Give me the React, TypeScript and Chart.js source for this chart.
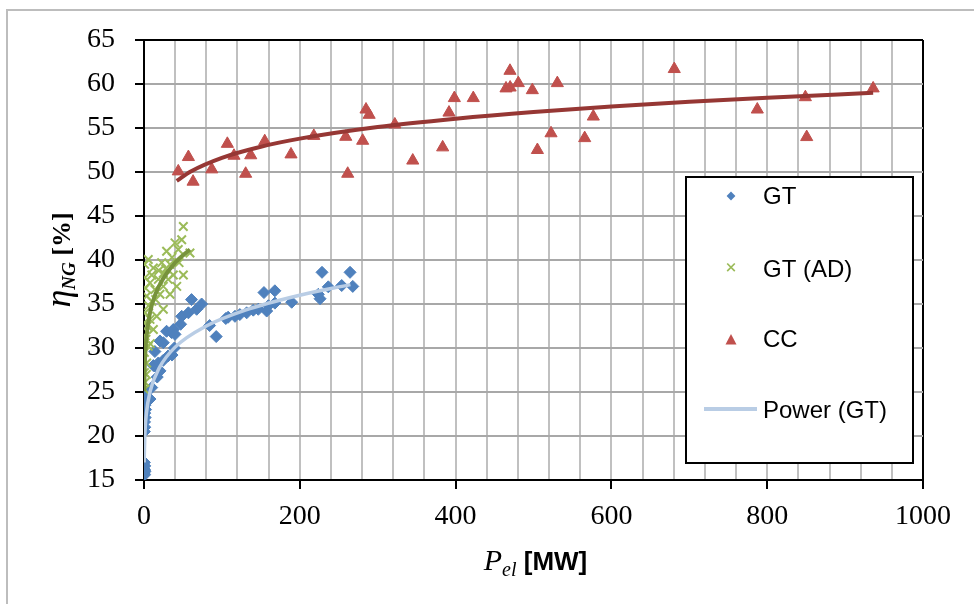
import { useEffect, useRef } from "react";
import { Chart, registerables } from "chart.js";

Chart.register(...registerables);

// ---------- axes ----------
const X_GRID = [0, 40, 80, 120, 160, 200, 240, 280, 320, 360, 400, 440, 480, 520, 560, 600, 640, 680, 720, 760, 800, 840, 880, 920, 960, 1000];
const X_LABELS = [0, 200, 400, 600, 800, 1000];
const Y_TICKS = [15, 20, 25, 30, 35, 40, 45, 50, 55, 60, 65];

// ---------- GT (blue diamonds) ----------
const GT_X = [0.3, 0.6, 1.0, 0.5, 1.3, 0.8,
  0.5, 1.0, 0.7, 1.5, 1.0, 2.0, 1.2, 2.5, 0.8, 1.5,
  3.4, 7.7, 9.9, 17, 12, 18.4, 20.5, 24.8, 14, 24.8, 20.5, 31, 36, 39,
  29, 35.5, 37.6, 39.8, 47, 48.4, 57, 61, 67.6, 74,
  84.2, 92.7, 105, 108, 116.8, 123, 131.8, 140.3, 146.7, 154, 157.5, 159.6, 168, 168,
  189.6, 223.8, 226, 236.6, 228.5, 253.8, 264.5, 268];
const GT_Y = [15.8, 16.2, 16.6, 17.0, 16.0, 15.6,
  20.5, 21.0, 21.6, 22.1, 22.6, 23.0, 23.5, 24.0, 24.5, 25.0,
  24.2, 24.2, 25.5, 26.7, 28.0, 28.3, 27.4, 28.6, 29.6, 30.6, 30.8, 29.1, 29.2, 30.0,
  31.9, 31.75, 32.1, 31.55, 32.7, 33.6, 34.0, 35.5, 34.4, 35.0,
  32.55, 31.3, 33.35, 33.5, 33.6, 33.8, 34.0, 34.3, 34.4, 36.3, 34.2, 34.8, 36.5, 35.1,
  35.2, 36.1, 35.6, 36.95, 38.6, 37.1, 38.6, 37.0];

// ---------- GT (AD) (green crosses) ----------
const AD_X = [50.5, 48.4, 39.8, 59, 29, 44, 5.5, 22.7, 33.4, 12, 0.8, 24.8, 1.3, 37.6, 31, 50.5, 18.4, 7.7,
  42, 24.8, 14, 3.4, 33.4, 20.5, 9.9, 24.8, 1.3, 16.3, 7.7, 0.4, 12, 1.3, 5.5, 0.5, 3.4, 0.5, 1.3, 0.5,
  2.5, 4, 6, 10, 28, 45, 15, 2, 19, 36, 8, 3];
const AD_Y = [43.8, 42.3, 41.95, 40.8, 41.0, 41.2, 40.05, 39.7, 39.5, 39.1, 39.5, 38.5, 38.0, 38.3, 37.8, 38.3, 37.8, 37.4,
  37.0, 37.0, 36.65, 35.9, 36.1, 36.1, 35.3, 34.4, 34.0, 33.6, 33.25, 32.9, 32.1, 31.4, 30.2, 29.5, 28.3, 27.2, 26.1, 25.3,
  31.0, 32.5, 34.8, 38.3, 39.0, 39.7, 35.5, 36.8, 38.8, 40.3, 30.5, 27.0];

// ---------- CC (red triangles) ----------
const CC_X = [44, 57, 63, 87, 107, 115.5, 130.5, 137, 155, 188.7, 218, 259, 261.5, 280.7, 285, 289, 322, 345,
  383.4, 391.5, 398.4, 422.7, 464.7, 469.8, 470, 480.5, 498.5, 505, 522.5, 530.6, 565.7, 576.8, 680.7,
  787.3, 849, 850.7, 936];
const CC_Y = [50.07, 51.7, 48.9, 50.3, 53.2, 51.85, 49.8, 51.9, 53.5, 52.0, 54.1, 54.0, 49.8, 53.55, 57.1, 56.5, 55.4, 51.3,
  52.8, 56.75, 58.4, 58.4, 59.5, 61.5, 59.6, 60.1, 59.3, 52.5, 54.4, 60.1, 53.85, 56.3, 61.7,
  57.1, 58.5, 53.97, 59.5];

// ---------- trend lines ----------
const GT_FIT_X = [0.2, 1, 3, 8, 20, 40, 80, 130, 200, 265];
const GT_FIT_Y = [17.0, 19.9, 22.5, 25.1, 27.8, 30.1, 32.5, 34.3, 36.0, 37.2];
const AD_FIT_X = [0.3, 1, 2.6, 7.7, 15, 24, 40, 59];
const AD_FIT_Y = [25.1, 28.1, 30.7, 34.0, 36.2, 37.8, 39.7, 41.2];
const CC_FIT_X = [42, 60, 100, 150, 200, 300, 400, 500, 600, 700, 800, 936];
const CC_FIT_Y = [49.0, 50.06, 51.61, 52.87, 53.79, 55.11, 56.06, 56.82, 57.44, 57.98, 58.45, 59.0];

const LEGEND_LABELS = ["GT", "GT (AD)", "CC", "Power (GT)"];

const C_GT = "#4f81bd";
const C_AD = "#9bbb59";
const C_CC = "#c0504d";
const C_GT_FIT = "#b9cde5";
const C_AD_FIT = "#77933c";
const C_CC_FIT = "#963734";

const pts = (xs: number[], ys: number[]) => xs.map((x, i) => ({ x, y: ys[i] }));

function drawParts(ctx: CanvasRenderingContext2D, parts: { t: string; f: string; dy: number }[], cx: number, baseY: number) {
  let total = 0;
  const widths = parts.map((p) => {
    ctx.font = p.f;
    const w = ctx.measureText(p.t).width;
    total += w;
    return w;
  });
  let x = cx - total / 2;
  parts.forEach((p, i) => {
    ctx.font = p.f;
    ctx.fillText(p.t, x, baseY + p.dy);
    x += widths[i];
  });
}

const decorPlugin = {
  id: "decor",
  beforeDraw(chart: any) {
    const ctx = chart.ctx as CanvasRenderingContext2D;
    ctx.save();
    ctx.fillStyle = "#fff";
    ctx.fillRect(0, 0, chart.width, chart.height);
    ctx.strokeStyle = "#bdbdbd";
    ctx.lineWidth = 2;
    ctx.beginPath();
    ctx.moveTo(7, chart.height);
    ctx.lineTo(7, 10);
    ctx.lineTo(chart.width, 10);
    ctx.stroke();
    ctx.restore();
  },
  afterDraw(chart: any) {
    const ctx = chart.ctx as CanvasRenderingContext2D;
    const area = chart.chartArea;
    ctx.save();
    ctx.fillStyle = "#000";
    ctx.textBaseline = "alphabetic";
    ctx.textAlign = "left";

    // x title
    drawParts(ctx, [
      { t: "P", f: 'italic 30px "Liberation Serif"', dy: 0 },
      { t: "el", f: 'italic 20px "Liberation Serif"', dy: 6 },
      { t: " [MW]", f: 'bold 26px "Liberation Sans"', dy: 0 },
    ], (area.left + area.right) / 2 + 2, 570);

    // y title
    ctx.save();
    ctx.translate(70, (area.top + area.bottom) / 2);
    ctx.rotate(-Math.PI / 2);
    drawParts(ctx, [
      { t: "\u03B7", f: 'italic 36px "Liberation Serif"', dy: 0 },
      { t: "NG", f: 'italic bold 19px "Liberation Serif"', dy: 5 },
      { t: " [%]", f: 'bold 26px "Liberation Serif"', dy: 0 },
    ], 0, 0);
    ctx.restore();

    // legend
    const lx = 686, ly = 177, lw = 227, lh = 286;
    ctx.fillStyle = "#fff";
    ctx.fillRect(lx, ly, lw, lh);
    ctx.strokeStyle = "#000";
    ctx.lineWidth = 2;
    ctx.strokeRect(lx, ly, lw, lh);

    const mx = 731;
    // diamond
    ctx.fillStyle = C_GT;
    ctx.beginPath();
    ctx.moveTo(mx - 4.4, 196); ctx.lineTo(mx, 191.6); ctx.lineTo(mx + 4.4, 196); ctx.lineTo(mx, 200.4);
    ctx.closePath(); ctx.fill();
    // cross
    ctx.strokeStyle = C_AD; ctx.lineWidth = 1.7;
    ctx.beginPath();
    ctx.moveTo(mx - 3.8, 263.5); ctx.lineTo(mx + 3.8, 271.1);
    ctx.moveTo(mx + 3.8, 263.5); ctx.lineTo(mx - 3.8, 271.1);
    ctx.stroke();
    // triangle
    ctx.fillStyle = C_CC;
    ctx.beginPath();
    ctx.moveTo(mx, 334); ctx.lineTo(mx + 5.5, 344.5); ctx.lineTo(mx - 5.5, 344.5);
    ctx.closePath(); ctx.fill();
    // line
    ctx.strokeStyle = C_GT_FIT; ctx.lineWidth = 4;
    ctx.beginPath(); ctx.moveTo(704, 409); ctx.lineTo(757, 409); ctx.stroke();

    ctx.fillStyle = "#000";
    ctx.font = '24px "Liberation Sans"';
    const bases = [204, 277, 347, 418];
    LEGEND_LABELS.forEach((t, i) => ctx.fillText(t, 763, bases[i]));
    ctx.restore();
  },
};

export default function App() {
  const ref = useRef<HTMLCanvasElement | null>(null);

  useEffect(() => {
    document.body.style.margin = "0";
    let chart: Chart | null = null;
    let cancelled = false;
    const make = () => {
      if (cancelled || !ref.current) return;
      const tickFont = { family: "Liberation Serif", size: 28 };
      chart = new Chart(ref.current, {
        type: "scatter",
        data: {
          datasets: [
            {
              label: "CC fit", data: pts(CC_FIT_X, CC_FIT_Y), showLine: true,
              borderColor: C_CC_FIT, borderWidth: 4, pointRadius: 0,
              cubicInterpolationMode: "monotone", order: 0,
            } as any,
            {
              label: "AD fit", data: pts(AD_FIT_X, AD_FIT_Y), showLine: true,
              borderColor: C_AD_FIT, borderWidth: 4, pointRadius: 0,
              cubicInterpolationMode: "monotone", order: 0,
            } as any,
            {
              label: "Power (GT)", data: pts(GT_FIT_X, GT_FIT_Y), showLine: true,
              borderColor: C_GT_FIT, borderWidth: 3.5, pointRadius: 0,
              cubicInterpolationMode: "monotone", order: 0,
            } as any,
            {
              label: "CC", data: pts(CC_X, CC_Y), pointStyle: "triangle", pointRadius: 7,
              backgroundColor: C_CC, borderColor: C_CC, borderWidth: 1, order: 1,
            },
            {
              label: "GT (AD)", data: pts(AD_X, AD_Y), pointStyle: "crossRot", pointRadius: 6,
              backgroundColor: C_AD, borderColor: C_AD, borderWidth: 2, order: 1,
            },
            {
              label: "GT", data: pts(GT_X, GT_Y), pointStyle: "rectRot", pointRadius: 6,
              backgroundColor: C_GT, borderColor: C_GT, borderWidth: 1, order: 1,
            },
          ],
        },
        options: {
          responsive: false,
          animation: false,
          events: [],
          layout: { padding: { left: 0, top: 40, right: 51, bottom: 0 } },
          plugins: { legend: { display: false }, tooltip: { enabled: false } },
          scales: {
            x: {
              type: "linear", min: 0, max: 1000,
              afterBuildTicks: (s: any) => { s.ticks = X_GRID.map((v) => ({ value: v })); },
              afterFit: (s: any) => { s.height = 124; },
              ticks: {
                autoSkip: false, maxRotation: 0, minRotation: 0, padding: 11, color: "#000", font: tickFont,
                callback: (v: any) => (X_LABELS.includes(Number(v)) ? String(v) : ""),
              },
              grid: {
                color: (c: any) => (c.tick && c.tick.value === 1000 ? "#000" : "#c0c0c0"),
                lineWidth: 2, tickLength: 9, tickWidth: 2,
                tickColor: (c: any) => (c.tick && X_LABELS.includes(c.tick.value) ? "#000" : "rgba(0,0,0,0)"),
              },
              border: { color: "#000", width: 2 },
            },
            y: {
              type: "linear", min: 15, max: 65,
              afterBuildTicks: (s: any) => { s.ticks = Y_TICKS.map((v) => ({ value: v })); },
              afterFit: (s: any) => { s.width = 144; },
              ticks: { padding: 20, color: "#000", font: tickFont },
              grid: {
                color: (c: any) => (c.tick && c.tick.value === 65 ? "#000" : "#a8a8a8"),
                lineWidth: 2, tickLength: 9, tickWidth: 2, tickColor: "#000",
              },
              border: { color: "#000", width: 2 },
            },
          },
        },
        plugins: [decorPlugin],
      });
    };
    const fonts = (document as any).fonts;
    if (fonts && fonts.load) {
      Promise.all([
        fonts.load('28px "Liberation Serif"'),
        fonts.load('italic 28px "Liberation Serif"'),
        fonts.load('bold 26px "Liberation Serif"'),
        fonts.load('24px "Liberation Sans"'),
        fonts.load('bold 26px "Liberation Sans"'),
      ]).then(make, make);
    } else {
      make();
    }
    return () => {
      cancelled = true;
      if (chart) chart.destroy();
    };
  }, []);

  return (
    <div style={{ width: 974, height: 604 }}>
      <canvas ref={ref} width={974} height={604} style={{ display: "block", width: 974, height: 604 }} />
    </div>
  );
}
